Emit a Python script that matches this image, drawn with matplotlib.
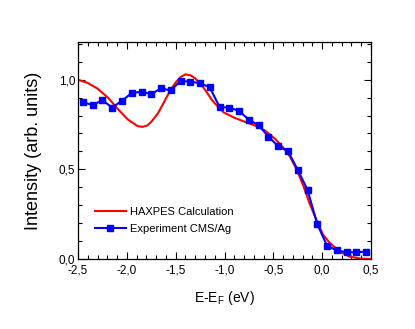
import numpy as np
import matplotlib
matplotlib.use('Agg')
import matplotlib.pyplot as plt
from matplotlib.ticker import MultipleLocator, FuncFormatter

plt.rcParams['font.family'] = ['Liberation Sans', 'DejaVu Sans']

# HAXPES calculation
calc_e = [-2.50, -2.40, -2.30, -2.19, -2.09, -1.99, -1.89, -1.84, -1.79, -1.75, -1.68,
          -1.60, -1.55, -1.50, -1.45, -1.40, -1.35, -1.30, -1.22, -1.12, -1.01,
          -0.90, -0.79, -0.69, -0.59, -0.48, -0.38, -0.33, -0.26, -0.19, -0.13,
          -0.06, 0.01, 0.08, 0.18, 0.28, 0.39, 0.50]
calc_i = [1.000, 0.982, 0.950, 0.898, 0.835, 0.778, 0.741, 0.737, 0.745, 0.765, 0.814,
          0.895, 0.945, 0.985, 1.015, 1.030, 1.025, 1.008, 0.960, 0.880, 0.818,
          0.788, 0.765, 0.745, 0.718, 0.669, 0.609, 0.571, 0.497, 0.404, 0.311,
          0.218, 0.134, 0.088, 0.041, 0.013, 0.002, 0.000]

# Experiment CMS/Ag
exp_e = [-2.45, -2.35, -2.25, -2.15, -2.05, -1.95, -1.85, -1.75, -1.65, -1.55,
         -1.45, -1.35, -1.25, -1.15, -1.05, -0.95, -0.85, -0.75, -0.65, -0.55,
         -0.45, -0.35, -0.25, -0.15, -0.05, 0.05, 0.15, 0.25, 0.35, 0.45]
exp_i = [0.873, 0.860, 0.885, 0.845, 0.883, 0.926, 0.933, 0.920, 0.952, 0.940,
         0.994, 0.989, 0.981, 0.957, 0.847, 0.845, 0.825, 0.777, 0.745, 0.683,
         0.628, 0.601, 0.497, 0.385, 0.194, 0.073, 0.048, 0.037, 0.037, 0.041]

fig = plt.figure(figsize=(4.15, 3.29), dpi=100)
ax = fig.add_axes([0.188, 0.213, 0.706, 0.659])

ax.plot(calc_e, calc_i, color='red', lw=1.5, label='HAXPES Calculation')
ax.plot(exp_e, exp_i, color='blue', lw=1.5, marker='s', ms=5,
        label='Experiment CMS/Ag')

ax.set_xlim(-2.5, 0.5)
ax.set_ylim(0, 1.21)
ax.xaxis.set_major_locator(MultipleLocator(0.5))
ax.xaxis.set_minor_locator(MultipleLocator(0.1))
ax.yaxis.set_major_locator(MultipleLocator(0.5))
ax.yaxis.set_minor_locator(MultipleLocator(0.1))
comma = FuncFormatter(lambda v, _: f"{v:.1f}".replace('.', ',').replace('-0,0', '0,0'))
ax.xaxis.set_major_formatter(comma)
ax.yaxis.set_major_formatter(comma)
ax.tick_params(which='both', direction='in', top=True, right=True,
               labelsize=8.5, width=0.8)
ax.tick_params(axis='x', pad=4)
ax.tick_params(axis='y', pad=2)
ax.tick_params(which='major', length=5)
ax.tick_params(which='minor', length=3)
for s in ax.spines.values():
    s.set_linewidth(0.9)

ax.set_xlabel('E-E$_\\mathregular{F}$ (eV)', fontsize=10, labelpad=9)
ax.set_ylabel('Intensity (arb. units)', fontsize=13, labelpad=12)

ax.legend(loc='lower left', bbox_to_anchor=(0.03, 0.08), frameon=False,
          fontsize=8, handlelength=2.8, handletextpad=0.4, labelspacing=0.6,
          borderpad=0.2)

fig.savefig('out.png', dpi=100)
